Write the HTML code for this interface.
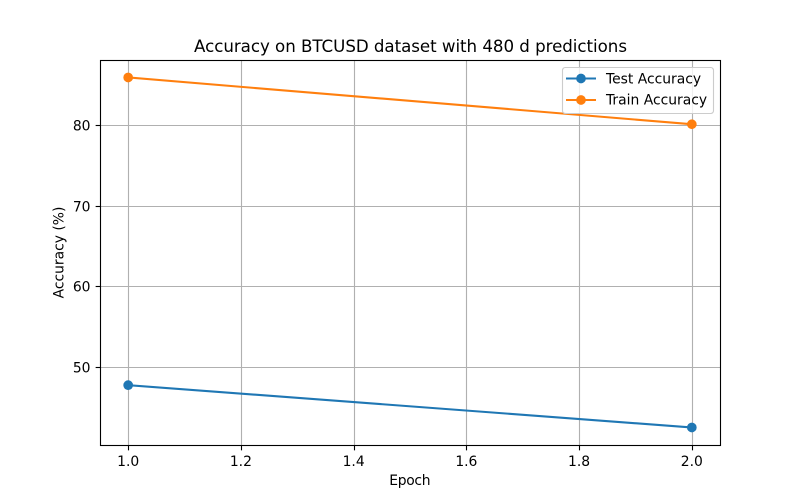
<!DOCTYPE html>
<html>
<head>
<meta charset="utf-8">
<title>Accuracy on BTCUSD dataset with 480 d predictions</title>
<style>
html,body{margin:0;padding:0;background:#fff;width:800px;height:500px;overflow:hidden}
svg{display:block}
text{font-family:"DejaVu Sans",sans-serif;fill:#000}
</style>
</head>
<body>
<svg id="chart" width="800" height="500" viewBox="0 0 800 500" xmlns="http://www.w3.org/2000/svg">
  <rect x="0" y="0" width="800" height="500" fill="#fff"/>
  <g id="grid"></g>
  <g id="series"></g>
  <rect x="100.5" y="60.5" width="620" height="385" fill="none" stroke="#000" stroke-width="1.11"/>
  <g id="ticks"></g>
  <text x="194" y="52" font-size="16.67" textLength="433" lengthAdjust="spacing">Accuracy on BTCUSD dataset with 480 d predictions</text>
  <text x="389.3" y="485" font-size="13.89" textLength="41.2" lengthAdjust="spacing">Epoch</text>
  <text x="0" y="0" font-size="13.89" text-anchor="middle" transform="translate(63.5 252.5) rotate(-90)">Accuracy (%)</text>
  <g>
    <rect x="562.5" y="67.5" width="151" height="46" rx="2.8" fill="#fff" fill-opacity="0.8" stroke="#ccc" stroke-width="1.11"/>
    <g>
      <line x1="566" y1="78.5" x2="596" y2="78.5" stroke="#1f77b4" stroke-width="2.08"/>
      <circle cx="581" cy="78.5" r="4.85" fill="#1f77b4"/>
      <text x="606" y="83.5" font-size="13.89">Test Accuracy</text>
    </g>
    <g>
      <line x1="566" y1="100" x2="596" y2="100" stroke="#ff7f0e" stroke-width="2.08"/>
      <circle cx="581" cy="100" r="4.85" fill="#ff7f0e"/>
      <text x="606" y="104.5" font-size="13.89">Train Accuracy</text>
    </g>
  </g>
</svg>
<script>
const epochs = [1, 2];
const testAccuracy = [47.75, 42.5];
const trainAccuracy = [85.9, 80.1];
const xTickValues = [1.0, 1.2, 1.4, 1.6, 1.8, 2.0];
const yTickValues = [50, 60, 70, 80];

const NS = 'http://www.w3.org/2000/svg';
const plotLeft = 100.5, plotRight = 720.5, plotTop = 60.5, plotBottom = 445.5;

function xScale(v) { return 128.18 + (v - 1) * 563.64; }
function yScale(v) { return 367 - (v - 50) * 8.065; }
function make(parent, tag, attrs) {
  const el = document.createElementNS(NS, tag);
  for (const k in attrs) el.setAttribute(k, attrs[k]);
  parent.appendChild(el);
  return el;
}

const grid = document.getElementById('grid');
const ticks = document.getElementById('ticks');
const series = document.getElementById('series');

xTickValues.forEach(function (v) {
  const x = Math.round(xScale(v)) + 0.5;
  const g = make(grid, 'line', { x1: x, y1: plotTop, x2: x, y2: plotBottom, stroke: '#b0b0b0', 'stroke-width': 1.11 });
  
  
  const t = make(ticks, 'line', { x1: x, y1: plotBottom, x2: x, y2: plotBottom + 4.86, stroke: '#000', 'stroke-width': 1.11 });
  
  
  const l = make(ticks, 'text', { x: xScale(v), y: 466, 'font-size': 13.89, 'text-anchor': 'middle' });
  
  
  l.textContent = v.toFixed(1);
});

yTickValues.forEach(function (v) {
  const y = Math.round(yScale(v)) + 0.5;
  const g = make(grid, 'line', { x1: plotLeft, y1: y, x2: plotRight, y2: y, stroke: '#b0b0b0', 'stroke-width': 1.11 });
  
  
  const t = make(ticks, 'line', { x1: plotLeft - 4.86, y1: y, x2: plotLeft, y2: y, stroke: '#000', 'stroke-width': 1.11 });
  
  
  const l = make(ticks, 'text', { x: 90.5, y: y + 5, 'font-size': 13.89, 'text-anchor': 'end' });
  
  
  l.textContent = String(v);
});

function drawSeries(values, color) {
  const pts = values.map(function (v, i) { return xScale(epochs[i]) + ',' + yScale(v); }).join(' ');
  const line = make(series, 'polyline', { points: pts, fill: 'none', stroke: color, 'stroke-width': 2.08, 'stroke-linecap': 'square', 'stroke-linejoin': 'round' });
  
  
  values.forEach(function (v, i) {
    const c = make(series, 'circle', { cx: xScale(epochs[i]), cy: yScale(v), r: 4.85, fill: color });
    
    
  });
}
drawSeries(testAccuracy, '#1f77b4');
drawSeries(trainAccuracy, '#ff7f0e');
</script>
</body>
</html>
